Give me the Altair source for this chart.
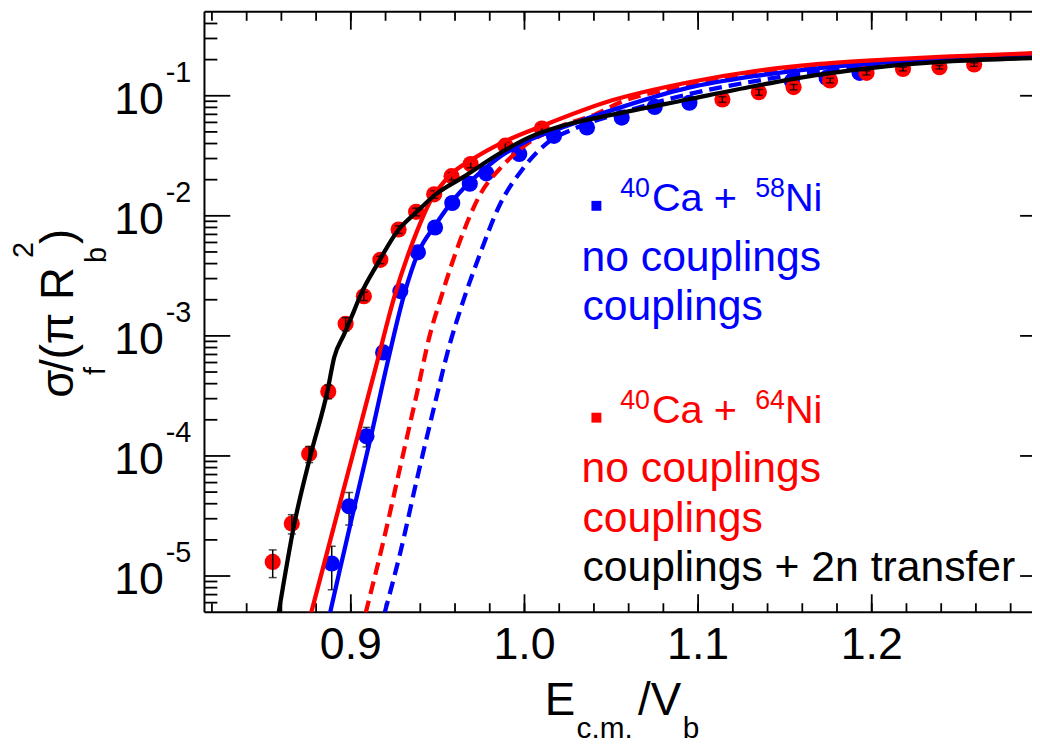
import altair as alt
import pandas as pd

FONT = "Liberation Sans"
W, H = 834, 605
XDOM = [0.8157, 1.2923]
YDOM = [5e-6, 0.5]
BLUE = "#0000ff"
RED = "#ff0000"

# ---------------- data: 40Ca + 64Ni (red) ----------------
ni64_x = [0.855, 0.866, 0.876, 0.887, 0.897, 0.9075, 0.917, 0.9275, 0.9376, 0.948, 0.958, 0.969,
          0.989, 1.010, 1.114, 1.135, 1.155, 1.176, 1.197, 1.218, 1.239, 1.259]
ni64_y = [1.31e-5, 2.74e-5, 1.04e-4, 3.44e-4, 1.26e-3, 2.14e-3, 4.3e-3, 7.7e-3, 1.08e-2, 1.51e-2, 2.14e-2, 2.70e-2,
          3.84e-2, 5.34e-2, 9.32e-2, 0.107, 0.118, 0.134, 0.155, 0.167, 0.173, 0.182]
ni64_err = [0.34e-5, 0.5e-5, 0.16e-4, 0.45e-4, 0.16e-3, 0.17e-3, 0.3e-3, 0.55e-3, 0.8e-3, 1.1e-3, 1.5e-3, 1.9e-3,
            2.6e-3, 3.5e-3, 5e-3, 6e-3, 6e-3, 6e-3, 6e-3, 6e-3, 6e-3, 6e-3]

# ---------------- data: 40Ca + 58Ni (blue) ----------------
ni58_x = [0.889, 0.899, 0.909, 0.9186, 0.9285, 0.9386, 0.9485, 0.9584, 0.9685, 0.978, 0.997, 1.017,
          1.036, 1.056, 1.075, 1.095, 1.154, 1.174, 1.193]
ni58_y = [1.27e-5, 3.81e-5, 1.46e-4, 7.28e-4, 2.36e-3, 4.97e-3, 8.0e-3, 1.28e-2, 1.85e-2, 2.26e-2, 3.27e-2, 4.64e-2,
          5.44e-2, 6.58e-2, 8.07e-2, 8.75e-2, 0.132, 0.141, 0.155]
ni58_err = [0.5e-5, 1.15e-5, 0.27e-4, 0.6e-4, 0.15e-3, 0.3e-3, 0.4e-3, 0.6e-3, 0.9e-3, 1.1e-3, 1.6e-3, 2.3e-3,
            2.7e-3, 3.3e-3, 4e-3, 4.4e-3, 6e-3, 7e-3, 7e-3]

# ---------------- calculations ----------------
ni58_nocoup_x = [0.9194, 0.9285, 0.938, 0.9475, 0.957, 0.9647, 0.9742, 0.9856, 0.999, 1.0123, 1.0294,
                 1.056, 1.094, 1.132, 1.17, 1.208, 1.2466, 1.2923]
ni58_nocoup_y = [4.90e-6, 1.57e-5, 6.34e-5, 2.40e-4, 8.55e-4, 1.95e-3, 4.73e-3, 1.22e-2, 2.46e-2, 3.96e-2, 5.37e-2,
                 7.24e-2, 0.1026, 0.132, 0.160, 0.182, 0.197, 0.213]

ni58_coup_x = [0.888, 0.8935, 0.9018, 0.9117, 0.9218, 0.931, 0.939, 0.9485, 0.9584, 0.9685, 0.9837, 1.0027,
               1.0218, 1.0504, 1.094, 1.132, 1.17, 1.208, 1.2466, 1.2923]
ni58_coup_y = [4.90e-6, 1.10e-5, 3.63e-5, 1.48e-4, 6.61e-4, 2.29e-3, 5.01e-3, 8.32e-3, 1.32e-2, 1.91e-2, 2.95e-2,
               4.27e-2, 5.45e-2, 7.59e-2, 0.1164, 0.1455, 0.170, 0.190, 0.202, 0.215]

ni64_nocoup_x = [0.9085, 0.919, 0.9285, 0.938, 0.9456, 0.9513, 0.9627, 0.9742, 0.9875, 1.0027, 1.0218, 1.0409,
                 1.056, 1.094, 1.132, 1.17, 1.208, 1.2466, 1.2923]
ni64_nocoup_y = [4.90e-6, 2.02e-5, 8.17e-5, 3.30e-4, 1.03e-3, 1.95e-3, 6.10e-3, 1.48e-2, 2.62e-2, 4.09e-2, 5.62e-2,
                 7.00e-2, 8.91e-2, 0.120, 0.150, 0.174, 0.193, 0.205, 0.219]

ni64_coup_x = [0.8771, 0.8847, 0.8942, 0.9037, 0.9161, 0.9247, 0.938, 0.9456, 0.957, 0.9704, 0.9875, 1.0104,
               1.05, 1.094, 1.132, 1.17, 1.208, 1.2466, 1.2923]
ni64_coup_y = [4.90e-6, 1.28e-5, 4.27e-5, 1.42e-4, 6.84e-4, 2.03e-3, 7.38e-3, 1.31e-2, 2.17e-2, 2.98e-2, 4.09e-2,
               5.62e-2, 9.12e-2, 0.129, 0.160, 0.184, 0.200, 0.213, 0.226]

ni64_2n_x = [0.8584, 0.8675, 0.877, 0.8866, 0.8904, 0.8961, 0.9018, 0.9056, 0.9151, 0.9266, 0.938, 0.9494,
             0.9647, 0.9837, 1.0027, 1.0218, 1.05, 1.094, 1.132, 1.17, 1.208, 1.2466, 1.2923]
ni64_2n_y = [4.90e-6, 2.74e-5, 1.04e-4, 3.51e-4, 6.61e-4, 1.03e-3, 1.61e-3, 2.19e-3, 3.92e-3, 7.38e-3, 1.08e-2,
             1.53e-2, 2.10e-2, 3.18e-2, 4.50e-2, 5.62e-2, 6.92e-2, 9.31e-2, 0.120, 0.150, 0.176, 0.194, 0.206]

# ---------------- axis ticks ----------------
x_major = [0.9, 1.0, 1.1, 1.2]
x_major_labels = ["0.9", "1.0", "1.1", "1.2"]
x_minor = [round(0.82 + 0.02 * i, 2) for i in range(24)]
y_major = [1e-5, 1e-4, 1e-3, 1e-2, 1e-1]
y_major_exp = ["-5", "-4", "-3", "-2", "-1"]
y_minor = [m * 10.0 ** e for e in range(-6, 0) for m in range(2, 10)
           if YDOM[0] < m * 10.0 ** e < YDOM[1]]

xs = alt.Scale(domain=XDOM, nice=False, zero=False)
ys = alt.Scale(type="log", domain=YDOM, nice=False)


def X(f):
    return alt.X(f"{f}:Q", scale=xs, axis=None)


def Y(f):
    return alt.Y(f"{f}:Q", scale=ys, axis=None)


def one(label=""):
    return alt.Chart(pd.DataFrame({"t": [label]}))


def txt(label, x, y, size, color="black", angle=0, align="left", baseline="alphabetic"):
    return one(label).mark_text(align=align, baseline=baseline, fontSize=size, font=FONT,
                                color=color, angle=angle).encode(
        x=alt.value(x), y=alt.value(y), text="t:N")


layers = []

# frame (left, top, bottom)
layers.append(one().mark_rule(color="black", strokeWidth=2).encode(
    x=alt.value(0), y=alt.value(0), y2=alt.value(H)))
layers.append(one().mark_rule(color="black", strokeWidth=2).encode(
    x=alt.value(0), x2=alt.value(W), y=alt.value(0)))
layers.append(one().mark_rule(color="black", strokeWidth=2).encode(
    x=alt.value(0), x2=alt.value(W), y=alt.value(H)))

dxmaj = pd.DataFrame({"v": x_major, "lab": x_major_labels})
dxmin = pd.DataFrame({"v": x_minor})
dymaj = pd.DataFrame({"v": y_major, "exp": y_major_exp})
dymin = pd.DataFrame({"v": y_minor})

tick = dict(color="black", strokeWidth=1.8)
layers += [
    alt.Chart(dxmaj).mark_rule(**tick).encode(x=X("v"), y=alt.value(H), y2=alt.value(H - 18)),
    alt.Chart(dxmin).mark_rule(**tick).encode(x=X("v"), y=alt.value(H), y2=alt.value(H - 9)),
    alt.Chart(dxmaj).mark_rule(**tick).encode(x=X("v"), y=alt.value(0), y2=alt.value(18)),
    alt.Chart(dxmin).mark_rule(**tick).encode(x=X("v"), y=alt.value(0), y2=alt.value(9)),
    alt.Chart(dymaj).mark_rule(**tick).encode(y=Y("v"), x=alt.value(0), x2=alt.value(26)),
    alt.Chart(dymin).mark_rule(**tick).encode(y=Y("v"), x=alt.value(0), x2=alt.value(13)),
    alt.Chart(dymaj).mark_rule(**tick).encode(y=Y("v"), x=alt.value(W - 12), x2=alt.value(W)),
]

# tick labels
layers.append(alt.Chart(dxmaj).mark_text(font=FONT, fontSize=45, baseline="top", align="center").encode(
    x=X("v"), y=alt.value(H + 11), text="lab:N"))
layers.append(alt.Chart(dymaj).mark_text(font=FONT, fontSize=45, align="right", baseline="alphabetic", dy=18).encode(
    y=Y("v"), x=alt.value(-41), text=alt.value("10")))
layers.append(alt.Chart(dymaj).mark_text(font=FONT, fontSize=29, align="left", baseline="alphabetic", dy=-14).encode(
    y=Y("v"), x=alt.value(-39), text="exp:N"))

# data points
d58 = pd.DataFrame({"x": ni58_x, "y": ni58_y, "e": ni58_err})
d58["lo"] = d58["y"] - d58["e"]
d58["hi"] = d58["y"] + d58["e"]
d64 = pd.DataFrame({"x": ni64_x, "y": ni64_y, "e": ni64_err})
d64["lo"] = d64["y"] - d64["e"]
d64["hi"] = d64["y"] + d64["e"]


def errbars(df):
    return [
        alt.Chart(df).mark_rule(color="black", strokeWidth=1.5).encode(x=X("x"), y=Y("lo"), y2="hi:Q"),
        alt.Chart(df).mark_tick(color="black", orient="horizontal", size=8, thickness=1.5).encode(x=X("x"), y=Y("lo")),
        alt.Chart(df).mark_tick(color="black", orient="horizontal", size=8, thickness=1.5).encode(x=X("x"), y=Y("hi")),
    ]


layers += errbars(d58)
layers.append(alt.Chart(d58).mark_circle(color=BLUE, opacity=1, size=265).encode(x=X("x"), y=Y("y")))
layers.append(alt.Chart(d64).mark_circle(color=RED, opacity=1, size=265).encode(x=X("x"), y=Y("y")))
layers += errbars(d64)


def curve(xv, yv, color, dash=None):
    kw = dict(color=color, strokeWidth=4.3, clip=True, interpolate="monotone")
    if dash:
        kw["strokeDash"] = dash
    return alt.Chart(pd.DataFrame({"x": xv, "y": yv})).mark_line(**kw).encode(x=X("x"), y=Y("y"))


layers += [
    curve(ni58_nocoup_x, ni58_nocoup_y, BLUE, [13, 7]),
    curve(ni64_nocoup_x, ni64_nocoup_y, RED, [13, 7]),
    curve(ni58_coup_x, ni58_coup_y, BLUE),
    curve(ni64_coup_x, ni64_coup_y, RED),
    curve(ni64_2n_x, ni64_2n_y, "black"),
]

# legend
layers += [
    one().mark_square(color=BLUE, size=100, opacity=1).encode(x=alt.value(395), y=alt.value(195.5)),
    txt("40", 419, 187, 27, BLUE), txt("Ca +", 451, 201, 40, BLUE),
    txt("58", 555, 187, 27, BLUE), txt("Ni", 585, 201, 40, BLUE),
    txt("no couplings", 380, 261, 43, BLUE),
    txt("couplings", 381, 311, 43, BLUE),
    one().mark_square(color=RED, size=100, opacity=1).encode(x=alt.value(395), y=alt.value(409)),
    txt("40", 419, 400, 27, RED), txt("Ca +", 451, 414, 40, RED),
    txt("64", 555, 400, 27, RED), txt("Ni", 585, 414, 40, RED),
    txt("no couplings", 380, 474, 43, RED),
    txt("couplings", 381, 524, 43, RED),
    txt("couplings + 2n transfer", 381, 574, 43, "black"),
]

# x title  E_{c.m.}/V_{b}
layers += [
    txt("E", 343, 709, 46), txt("c.m.", 375, 732, 30),
    txt("/V", 437, 709, 46), txt("b", 482, 732, 30),
]

# y title  sigma_f/(pi R_b^2)
layers += [
    txt("σ", -132, 389, 46, angle=270),
    txt("f", -100, 366, 29, angle=270),
    txt("/(π R", -132, 363, 46, angle=270),
    txt("b", -99, 253, 29, angle=270),
    txt("2", -173, 248, 29, angle=270),
    txt(")", -132, 234, 46, angle=270),
]

chart = alt.layer(*layers).properties(
    width=W, height=H,
    padding={"left": 198, "top": 1, "right": 0, "bottom": 129},
    autosize=alt.AutoSizeParams(type="none"),
).configure_view(stroke=None)

chart.save("out.html", embed_options={"renderer": "svg", "actions": False})
